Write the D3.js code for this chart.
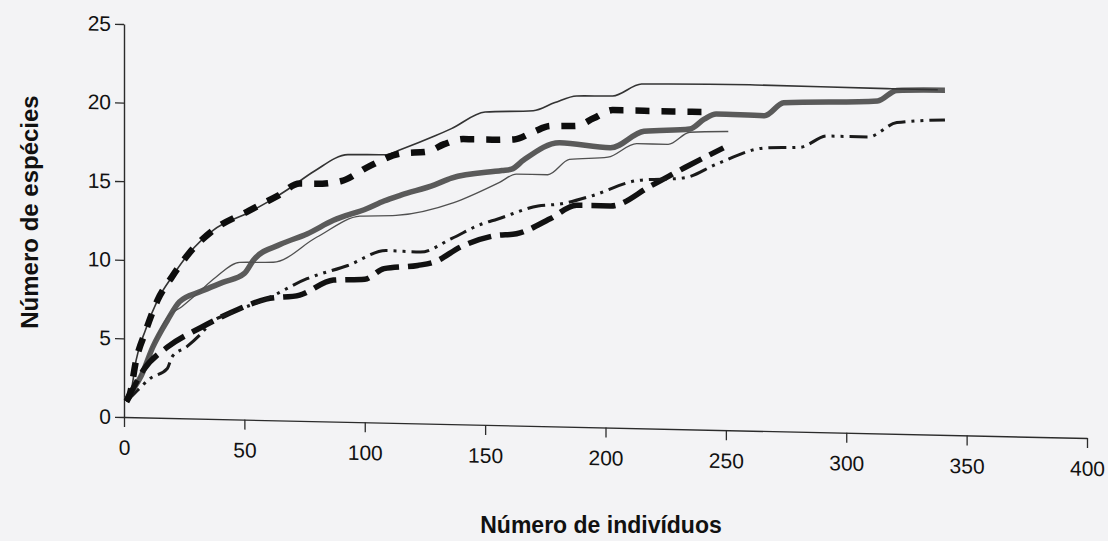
<!DOCTYPE html>
<html>
<head>
<meta charset="utf-8">
<script src="https://cdn.jsdelivr.net/npm/d3@7"></script>
<style>
  body { margin: 0; background: #f3f3f5; }
  svg { display: block; font-family: "Liberation Sans", Arial, sans-serif; }
</style>
</head>
<body>
<div id="chart"></div>
<script>
// accumulation curves: number of individuals (x) vs number of species (y)
const xTicks = [0, 50, 100, 150, 200, 250, 300, 350, 400];
const yTicks = [0, 5, 10, 15, 20, 25];

const seriesA_x = [1, 3, 5, 9, 14, 20, 27, 37, 52, 61, 68, 79, 93, 109, 115, 129, 136, 150, 170, 179, 188, 203, 215, 260, 319, 338];
const seriesA_y = [1, 1.7, 3.6, 5.6, 7.5, 9, 10.5, 12, 13.2, 14, 14.7, 15.9, 17, 17.05, 17.4, 18.3, 18.8, 19.9, 20.05, 20.6, 21.05, 21.1, 21.9, 22, 21.95, 21.95];

const seriesB_x = [1, 2.5, 5, 9, 14, 20, 27, 37, 52, 64, 73, 79, 90, 102, 115, 126, 133, 141, 153, 162, 170, 177, 188, 195, 203, 216, 228, 243];
const seriesB_y = [1, 1.5, 3.6, 5.5, 7.5, 9, 10.5, 12, 13.3, 14.3, 15.1, 15.1, 15.3, 16.3, 17.15, 17.3, 17.8, 18.15, 18.15, 18.2, 18.7, 19.1, 19.15, 19.65, 20.2, 20.2, 20.2, 20.2];

const seriesC_x = [1, 3, 7, 12, 18, 23, 32, 41, 50, 54, 65, 76, 87, 101, 108, 115, 129, 136, 157, 161, 166, 181, 202, 216, 235, 241, 246, 266, 274, 313, 321, 341];
const seriesC_y = [1.1, 1.6, 2.6, 4.5, 6.2, 7.4, 8.1, 8.7, 9.3, 10.2, 11.2, 11.9, 12.8, 13.6, 14.1, 14.5, 15.2, 15.65, 16.2, 16.3, 16.9, 18.05, 17.8, 18.9, 19.1, 19.75, 20.1, 20.05, 20.9, 21.15, 21.85, 21.93];

const seriesD_x = [1, 3, 7, 12, 18, 24, 30, 38, 48, 62, 80, 98, 113, 137, 156, 163, 176, 185, 201, 213, 226, 235, 251];
const seriesD_y = [1, 1.5, 2.8, 4.6, 6.4, 7.1, 7.9, 9, 10, 10.05, 11.7, 13.1, 13.2, 14.1, 15.45, 16, 16, 17, 17.2, 18.1, 18.1, 18.9, 19];

const seriesE_x = [1, 3, 11, 18, 20, 26, 32, 36, 45, 59, 76, 93, 109, 123, 136, 149, 155, 172, 181, 194, 213, 233, 246, 266, 281, 292, 309, 321, 341];
const seriesE_y = [1, 1.3, 2.5, 3.15, 3.9, 4.55, 5.4, 6.1, 6.8, 7.7, 9.05, 9.95, 10.95, 10.9, 11.8, 12.8, 13.1, 14, 14.15, 14.7, 15.75, 16, 16.9, 18, 18.1, 18.85, 18.85, 19.8, 20.03];

const seriesF_x = [1, 3, 8, 18, 32, 48, 59, 73, 87, 100, 108, 122, 129, 140, 154, 163, 177, 188, 202, 219, 233, 249];
const seriesF_y = [1, 1.6, 3, 4.5, 5.8, 7.05, 7.7, 8, 9, 9.1, 9.8, 10.05, 10.3, 11.3, 12.05, 12.2, 13.2, 14.1, 14.1, 15.45, 16.65, 17.95];

const width = 1108, height = 541;
const svg = d3.select("#chart").append("svg")
    .attr("width", width)
    .attr("height", height);

svg.append("rect").attr("width", width).attr("height", height).attr("fill", "#f3f3f5");

const x = d3.scaleLinear().domain([0, 400]).range([124, 1087]);
const y = d3.scaleLinear().domain([0, 25]).range([417, 24]);

// the scanned page is slightly sheared, the plot drops to the right
const plot = svg.append("g")
    .attr("transform", "translate(124,417) skewY(1.25) translate(-124,-417)");

const xAxis = plot.append("g")
    .attr("transform", "translate(0,417)")
    .call(d3.axisBottom(x).tickValues(xTicks).tickSize(10).tickSizeOuter(0).tickPadding(13));

const yAxis = plot.append("g")
    .attr("transform", "translate(124,0)")
    .call(d3.axisLeft(y).tickValues(yTicks).tickSize(9).tickSizeOuter(0).tickPadding(4));

[xAxis, yAxis].forEach(function(ax) {
    ax.select(".domain").attr("stroke", "#2b2b2b").attr("stroke-width", 1.4);
    ax.selectAll(".tick line").attr("stroke", "#2b2b2b").attr("stroke-width", 1.3);
    ax.selectAll(".tick text")
        .attr("fill", "#111")
        .style("font-size", "21px")
        .style("font-family", "'Liberation Sans', Arial, sans-serif");
});

const line = d3.line()
    .x(function(d) { return x(d[0]); })
    .y(function(d) { return y(d[1]); })
    .curve(d3.curveMonotoneX);

const series = [
    {xs: seriesC_x, ys: seriesC_y, color: "#5a5a5a", width: 5.5, dash: null},
    {xs: seriesD_x, ys: seriesD_y, color: "#505050", width: 1.3, dash: null},
    {xs: seriesA_x, ys: seriesA_y, color: "#333", width: 1.6, dash: null},
    {xs: seriesF_x, ys: seriesF_y, color: "#111", width: 5.5, dash: "24,9"},
    {xs: seriesE_x, ys: seriesE_y, color: "#1a1a1a", width: 3, dash: "18,6,3,6,3,6"},
    {xs: seriesB_x, ys: seriesB_y, color: "#0d0d0d", width: 6.5, dash: "14,12"}
];

series.forEach(function(s) {
    plot.append("path")
        .datum(d3.zip(s.xs, s.ys))
        .attr("fill", "none")
        .attr("stroke", s.color)
        .attr("stroke-width", s.width)
        .attr("stroke-dasharray", s.dash)
        .attr("d", line);
});

svg.append("text")
    .attr("x", 601)
    .attr("y", 533)
    .attr("text-anchor", "middle")
    .attr("font-weight", "bold")
    .attr("font-size", 23)
    .attr("fill", "#111")
    .text("Número de indivíduos");

svg.append("text")
    .attr("transform", "translate(38,212) rotate(-90)")
    .attr("text-anchor", "middle")
    .attr("font-weight", "bold")
    .attr("font-size", 24)
    .attr("fill", "#111")
    .text("Número de espécies");
</script>
</body>
</html>
